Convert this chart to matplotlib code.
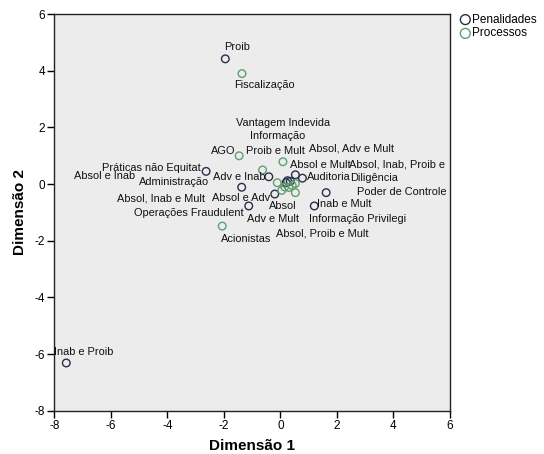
import matplotlib
matplotlib.use("Agg")
import matplotlib.pyplot as plt

plt.rcParams['font.family'] = ['Liberation Sans', 'DejaVu Sans']
plt.rcParams['axes.unicode_minus'] = False

# Penalidades
pen_labels = ["Proib", "Inab e Proib", "Absol e Inab", "Absol, Inab e Mult", "Adv e Mult",
              "Adv e Inab", "Absol, Adv e Mult", "Absol, Inab, Proib e", "Inab e Mult",
              "Absol, Proib e Mult", "Absol", "Absol e Mult", "Proib e Mult", "Absol e Adv"]
pen_x = [-1.95, -7.58, -2.63, -1.37, -1.12, -0.41, 0.53, 0.78, 1.62, 1.20, -0.20, 0.25, 0.35, 0.20]
pen_y = [4.42, -6.31, 0.45, -0.11, -0.77, 0.26, 0.33, 0.21, -0.30, -0.77, -0.35, 0.12, 0.10, 0.05]

# Processos
proc_labels = ["Fiscalização", "AGO", "Administração", "Vantagem Indevida", "Acionistas",
               "Informação", "Operações Fraudulent", "Práticas não Equitat",
               "Informação Privilegi", "Auditoria", "Poder de Controle", "Diligência"]
proc_x = [-1.36, -1.46, -0.63, 0.09, -2.06, -0.11, 0.05, 0.30, 0.53, 0.53, 0.15, 0.42]
proc_y = [3.90, 1.00, 0.50, 0.79, -1.48, 0.05, -0.22, -0.12, -0.30, 0.02, -0.10, -0.05]

# label offsets (pixels) relative to their points
pen_off = [(12, 12), (17, 11), (-102, -5), (-81, -11), (24, -13), (-30, 0), (56, 26),
           (95, 14), (18, -11), (8, -28), (8, -12), (33, 16), (-15, 30), (-45, -15)]
proc_off = [(22, -11), (-16, 5), (-89, -12), (0, 39), (24, -13), (0, 47), (-93, -23),
            (-137, 20), (62, -26), (33, 7), (117, -5), (82, 8)]

pen_color = "#27304a"
proc_color = "#5f9e72"

fig = plt.figure(figsize=(5.44, 4.54), dpi=100)
ax = fig.add_axes([0.100, 0.095, 0.727, 0.874])
ax.set_facecolor("#ececec")

ax.scatter(pen_x, pen_y, s=30, facecolors='none', edgecolors=pen_color, linewidths=1.0,
           label="Penalidades", zorder=3)
ax.scatter(proc_x, proc_y, s=30, facecolors='none', edgecolors=proc_color, linewidths=1.0,
           label="Processos", zorder=3)

for lab, x, y, (dx, dy) in zip(pen_labels, pen_x, pen_y, pen_off):
    ax.annotate(lab, (x, y), xytext=(dx, dy), textcoords='offset pixels',
                ha='center', va='center', fontsize=7.9, color='#111111', zorder=4)
for lab, x, y, (dx, dy) in zip(proc_labels, proc_x, proc_y, proc_off):
    ax.annotate(lab, (x, y), xytext=(dx, dy), textcoords='offset pixels',
                ha='center', va='center', fontsize=7.9, color='#111111', zorder=4)

ax.set_xlim(-8, 6)
ax.set_ylim(-8, 6)
ax.set_xticks([-8, -6, -4, -2, 0, 2, 4, 6])
ax.set_yticks([-8, -6, -4, -2, 0, 2, 4, 6])
ax.tick_params(direction='out', length=5, width=1, labelsize=8.5, pad=1.5)
for sp in ax.spines.values():
    sp.set_linewidth(1.0)
    sp.set_color('#222222')
ax.set_xlabel("Dimensão 1", fontsize=11, fontweight='bold', labelpad=5)
ax.set_ylabel("Dimensão 2", fontsize=11, fontweight='bold', labelpad=6)

leg = fig.legend(loc='upper left', bbox_to_anchor=(0.838, 0.975), frameon=False,
                 fontsize=8.5, handletextpad=0.0, borderaxespad=0, labelspacing=0.15,
                 handlelength=1.2, borderpad=0.2, markerscale=1.3)

fig.savefig("out.png", dpi=100)
